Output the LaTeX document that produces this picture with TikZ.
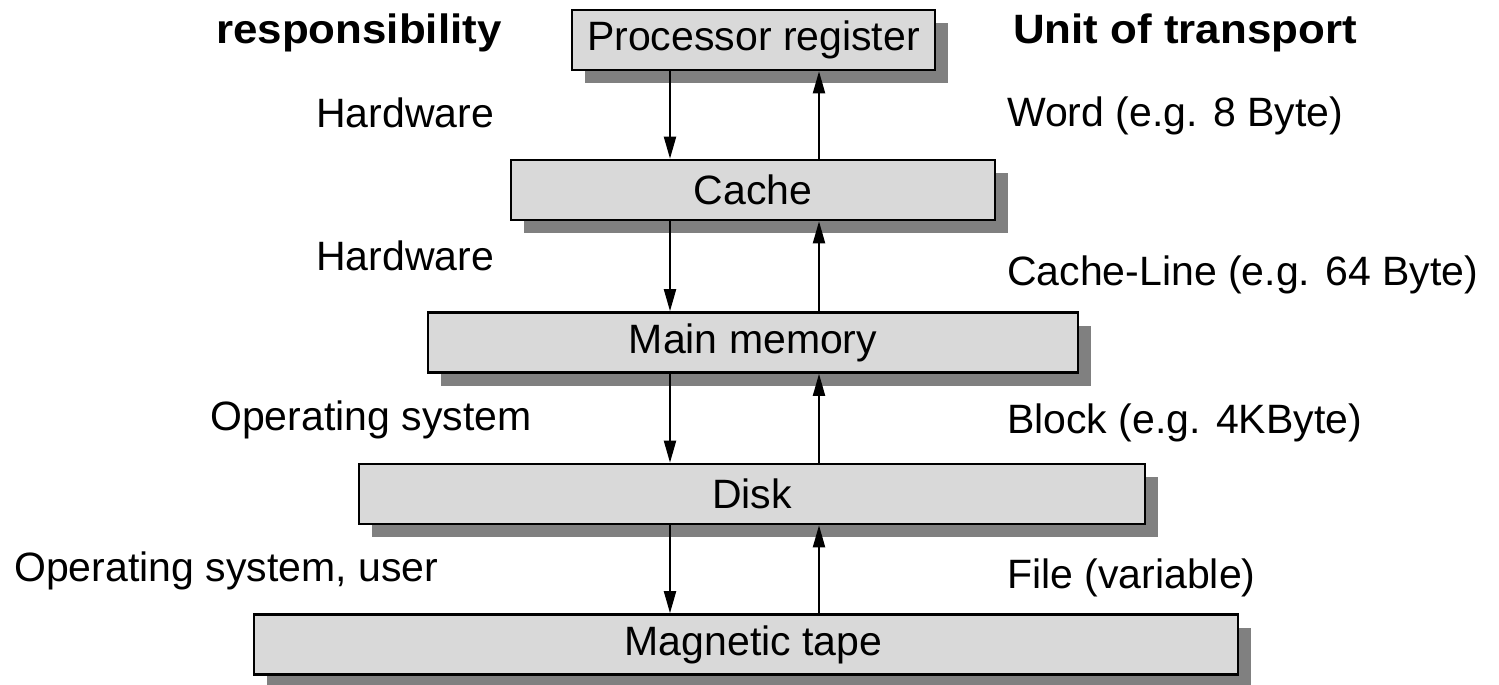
\documentclass[tikz,border=0pt]{standalone}
\usepackage{fontspec}
\usepackage{graphicx}
\setmainfont{Liberation Sans}
\usetikzlibrary{arrows.meta,shadows}
\definecolor{boxfill}{HTML}{D9D9D9}
\definecolor{shadowgray}{HTML}{808080}
\begin{document}
\begin{tikzpicture}[x=1pt,y=-1pt,
  lvl/.style={draw=black, line width=2.6pt, fill=boxfill, rectangle, inner sep=0pt,
    minimum height=60pt, font=\fontsize{41}{48}\selectfont,
    drop shadow={shadow xshift=13pt, shadow yshift=-13pt, fill=shadowgray, draw=none, opacity=1}},
  lbl/.style={anchor=base west, inner sep=0pt, font=\fontsize{41}{48}\selectfont},
  arr/.style={line width=2pt, -{Triangle[length=22pt,width=12pt]}}]
\useasboundingbox (0,0) rectangle (1499,685);
% levels
\node[lvl, minimum width=363pt] (pr) at (753.5,40) {Processor register};
\node[lvl, minimum width=484pt] (cache) at (753,190) {Cache};
\node[lvl, minimum width=650pt] (mm) at (753,342.5) {Main memory};
\node[lvl, minimum width=786pt] (disk) at (752,494) {Disk};
\node[lvl, minimum width=984pt] (tape) at (746,644.5) {\hspace*{15pt}Magnetic tape};
% arrow columns
\coordinate (dx) at (670,0);
\coordinate (ux) at (819,0);
\draw[arr] (dx |- pr.south) -- (dx |- cache.north);
\draw[arr] (ux |- cache.north) -- (ux |- pr.south);
\draw[arr] (dx |- cache.south) -- (dx |- mm.north);
\draw[arr] (ux |- mm.north) -- (ux |- cache.south);
\draw[arr] (dx |- mm.south) -- (dx |- disk.north);
\draw[arr] (ux |- disk.north) -- (ux |- mm.south);
\draw[arr] (dx |- disk.south) -- (dx |- tape.north);
\draw[arr] (ux |- tape.north) -- (ux |- disk.south);
% headings
\node[lbl] (hresp) at (216,44) {\scalebox{1.07}[1]{\bfseries responsibility}};
\node[lbl] (hunit) at (1013,44) {\scalebox{1.07}[1]{\bfseries Unit of transport}};
% responsibility labels
\node[lbl] (r1) at (316,127) {Hardware};
\node[lbl] (r2) at (316,270) {Hardware};
\node[lbl] (r3) at (210,430) {Operating system};
\node[lbl] (r4) at (14,581) {Operating system, user};
% unit labels
\node[lbl] (u1) at (1007,126) {Word (e.g. 8 Byte)};
\node[lbl] (u2) at (1007,285) {Cache-Line (e.g. 64 Byte)};
\node[lbl] (u3) at (1007,433) {Block (e.g. 4KByte)};
\node[lbl] (u4) at (1007,588) {File (variable)};
\end{tikzpicture}
\end{document}
